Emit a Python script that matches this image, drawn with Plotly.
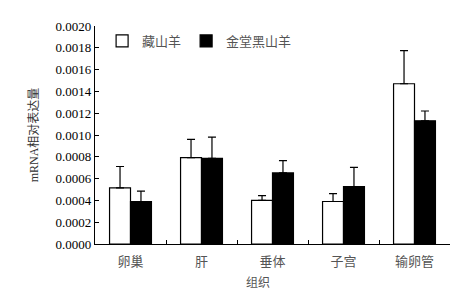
import plotly.graph_objects as go

tissues = ["卵巢", "肝", "垂体", "子宫", "输卵管"]
zang = [0.000515, 0.000792, 0.000400, 0.000390, 0.001470]
zang_err = [0.000196, 0.000168, 0.000044, 0.000072, 0.000304]
jintang = [0.000390, 0.000786, 0.000652, 0.000527, 0.001130]
jintang_err = [0.000095, 0.000194, 0.000113, 0.000176, 0.000090]
y_ticks = [i * 0.0002 for i in range(11)]

serif = "Times New Roman, Liberation Serif, serif"
cjk = "Noto Sans CJK SC"

fig = go.Figure()
fig.add_trace(go.Bar(
    x=tissues, y=zang, name="藏山羊",
    marker=dict(color="white", line=dict(color="black", width=1.2)),
    error_y=dict(type="data", array=zang_err, arrayminus=[0] * 5, symmetric=False,
                 color="black", thickness=1.2, width=4),
))
fig.add_trace(go.Bar(
    x=tissues, y=jintang, name="金堂黑山羊",
    marker=dict(color="black", line=dict(color="black", width=1.2)),
    error_y=dict(type="data", array=jintang_err, arrayminus=[0] * 5, symmetric=False,
                 color="black", thickness=1.2, width=4),
))

# page body has an 8px margin, so the figure is drawn 8px smaller and shifted
fig.update_layout(
    width=459, height=284,
    margin=dict(l=87, r=17, t=11, b=48),
    plot_bgcolor="white", paper_bgcolor="white",
    barmode="group", bargap=0.41, bargroupgap=0,
    font=dict(family=serif, color="black", size=13),
    legend=dict(orientation="h", x=0.02, y=1.0, xanchor="left", yanchor="top",
                font=dict(family=cjk, size=13, color="#555"),
                bgcolor="rgba(0,0,0,0)", itemwidth=30),
    xaxis=dict(showline=True, linecolor="black", linewidth=1.2,
               ticks="inside", ticklen=4, tickcolor="black", tickson="boundaries",
               tickfont=dict(family=cjk, size=13, color="#555"),
               ticklabelstandoff=5, showgrid=False),
    yaxis=dict(range=[0, 0.002], tickvals=y_ticks, tickformat=".4f",
               showline=True, linecolor="black", linewidth=1.2,
               ticks="inside", ticklen=4, tickcolor="black",
               tickfont=dict(family=serif, size=13),
               showgrid=False, zeroline=False,
               title=dict(text="mRNA相对表达量", standoff=14,
                          font=dict(family=serif + ", " + cjk, size=12, color="#333"))),
)
fig.add_annotation(text="组织", x=0.46, xref="paper", y=-0.17, yref="paper",
                   yanchor="middle", showarrow=False,
                   font=dict(family=cjk, size=12, color="#555"))

fig.write_html("out.html")
